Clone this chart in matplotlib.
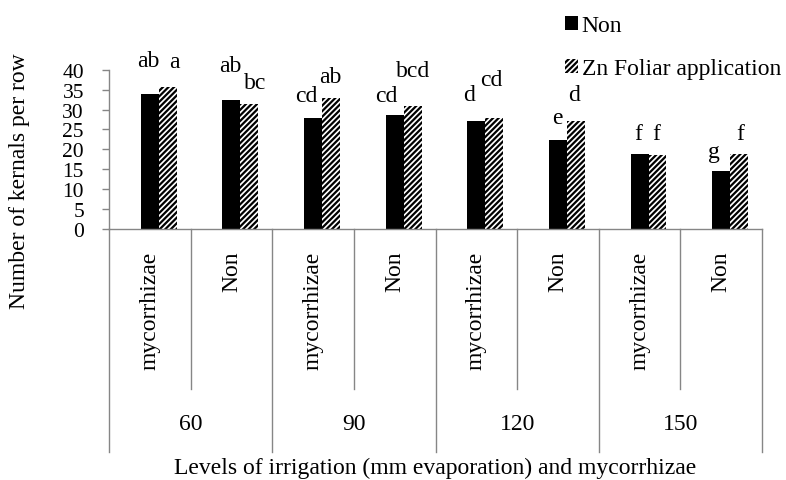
import matplotlib
matplotlib.use("Agg")
import matplotlib.pyplot as plt
import matplotlib.transforms as mtransforms
from matplotlib.patches import Patch
from matplotlib.lines import Line2D
import numpy as np

# ---- data ----
groups = ["60", "90", "120", "150"]
subcats = ["mycorrhizae", "Non", "mycorrhizae", "Non", "mycorrhizae", "Non", "mycorrhizae", "Non"]
non_vals = [33.9, 32.5, 27.9, 28.5, 27.1, 22.3, 18.9, 14.6]
zn_vals = [35.6, 31.4, 32.9, 30.8, 27.9, 27.1, 18.5, 18.9]
non_letters = ["ab", "ab", "cd", "cd", "d", "e", "f", "g"]
zn_letters = ["a", "bc", "ab", "bcd", "cd", "d", "f", "f"]
series_names = ["Non", "Zn Foliar application"]
yticks = [0, 5, 10, 15, 20, 25, 30, 35, 40]

# ---- letter layout (height of letter centre above bar top, x nudge in px) ----
non_lift = [8.3, 8.5, 5.6, 5.0, 6.6, 5.7, 5.1, 4.9]
zn_lift = [6.4, 5.3, 5.3, 9.0, 9.6, 6.6, 5.5, 5.1]
non_dx = [-1, -1, -7, -8, -7, -1, -1, -7]
zn_dx = [7, 6, -1, 0, -3, -2, -1, 1]

plt.rcParams["font.family"] = ["Liberation Serif", "DejaVu Serif"]
plt.rcParams["hatch.linewidth"] = 1.6
plt.rcParams["hatch.color"] = "black"

FS = 17
W, H = 786, 481
fig = plt.figure(figsize=(W / 100, H / 100), dpi=100)
ax = fig.add_axes([109 / W, 1 - 230 / H, (762 - 109) / W, (230 - 70.7) / H])

x = np.arange(len(subcats))
bw = 0.22
ax.bar(x, non_vals, width=bw, color="black", edgecolor="black", linewidth=0)
ax.bar(x + bw, zn_vals, width=bw, color="white", edgecolor="black", hatch="//////", linewidth=0)

ax.set_xlim(-0.5, len(subcats) - 0.5)
ax.set_ylim(0, 40)
ax.set_yticks(yticks)
ax.set_yticklabels([str(t) for t in yticks], fontsize=15.5)
ax.tick_params(axis="y", direction="out", length=5, width=1, color="#868686", pad=13)
ax.tick_params(axis="x", bottom=False, labelbottom=False)
for s in ["top", "right"]:
    ax.spines[s].set_visible(False)
for s in ["left", "bottom"]:
    ax.spines[s].set_color("#868686")
    ax.spines[s].set_linewidth(1)

# significance letters
for i in range(len(subcats)):
    t1 = ax.transData + mtransforms.ScaledTranslation(non_dx[i] / 100, 0, fig.dpi_scale_trans)
    ax.text(x[i], non_vals[i] + non_lift[i], non_letters[i], transform=t1,
            ha="center", va="center", fontsize=FS)
    t2 = ax.transData + mtransforms.ScaledTranslation(zn_dx[i] / 100, 0, fig.dpi_scale_trans)
    ax.text(x[i] + bw, zn_vals[i] + zn_lift[i], zn_letters[i], transform=t2,
            ha="center", va="center", fontsize=FS)

# multi-level category axis
blend = mtransforms.blended_transform_factory(ax.transData, fig.transFigure)
y_axis = 1 - 230 / H
y_inner = 1 - 390 / H
y_outer = 1 - 453 / H
for i in range(len(subcats) + 1):
    xb = i - 0.5
    y_end = y_outer if i % 2 == 0 else y_inner
    fig.add_artist(Line2D([xb, xb], [y_axis, y_end], transform=blend, color="#868686", lw=1))
for i, lab in enumerate(subcats):
    fig.text(x[i], 1 - 252 / H, lab, transform=blend, rotation=90, ha="center", va="top", fontsize=FS)
for g, lab in enumerate(groups):
    fig.text(2 * g + 0.5, 1 - 425 / H, lab, transform=blend, ha="center", va="center", fontsize=FS)

fig.text((109 + 762) / 2 / W, 1 - 468 / H, "Levels of irrigation (mm evaporation) and mycorrhizae",
         ha="center", va="center", fontsize=FS)
fig.text(20 / W, 1 - 181 / H, "Number of kernals per row", rotation=90,
         ha="center", va="center", fontsize=FS)

handles = [Patch(facecolor="black", edgecolor="black", linewidth=0),
           Patch(facecolor="white", edgecolor="black", hatch="//////", linewidth=0)]
fig.legend(handles, series_names, loc="upper left", bbox_to_anchor=(565 / W, 1 - 16 / H),
           frameon=False, fontsize=FS, handlelength=0.55, handleheight=0.55,
           handletextpad=0.15, labelspacing=0.95, borderaxespad=0, borderpad=0)

fig.savefig("out.png", dpi=100)
